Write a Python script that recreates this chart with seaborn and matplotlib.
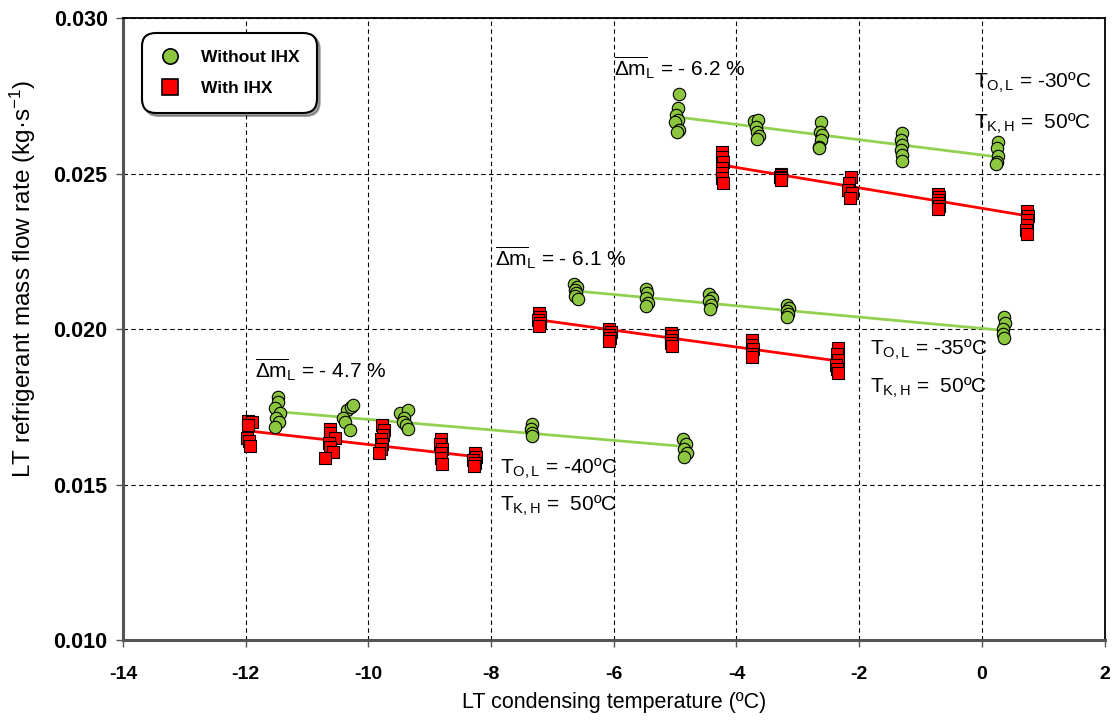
import matplotlib
matplotlib.use("Agg")
import matplotlib.pyplot as plt
import seaborn as sns
import pandas as pd

# ---------------- data ----------------
# Without IHX (green circles)
x_without = [
    # T_O,L = -30 C
    -4.93, -4.96, -4.98, -4.95, -5.00, -4.94, -4.97,
    -3.71, -3.65, -3.69, -3.67, -3.64, -3.66,
    -2.63, -2.64, -2.61, -2.62, -2.65, -2.66,
    -1.31, -1.32, -1.30, -1.32, -1.31, -1.30,
    0.27, 0.25, 0.26, 0.24, 0.23,
    # T_O,L = -35 C
    -6.65, -6.60, -6.63, -6.61, -6.64, -6.58,
    -5.47, -5.46, -5.48, -5.45, -5.47,
    -4.44, -4.40, -4.45, -4.42, -4.43,
    -3.17, -3.15, -3.18, -3.16, -3.17,
    0.36, 0.37, 0.35, 0.34, 0.36,
    # T_O,L = -40 C
    -11.48, -11.47, -11.52, -11.44, -11.50, -11.46, -11.52,
    -10.35, -10.28, -10.25, -10.42, -10.38, -10.30,
    -9.48, -9.36, -9.42, -9.44, -9.38, -9.35,
    -7.34, -7.35, -7.33, -7.34,
    -4.87, -4.82, -4.85, -4.80, -4.86,
]
y_without = [
    0.02756, 0.02711, 0.02688, 0.02672, 0.02666, 0.02640, 0.02633,
    0.02670, 0.02672, 0.02651, 0.02635, 0.02621, 0.02610,
    0.02667, 0.02634, 0.02624, 0.02608, 0.02586, 0.02581,
    0.02629, 0.02608, 0.02592, 0.02576, 0.02559, 0.02540,
    0.02602, 0.02581, 0.02556, 0.02538, 0.02531,
    0.02145, 0.02135, 0.02125, 0.02115, 0.02105, 0.02095,
    0.02128, 0.02115, 0.02100, 0.02085, 0.02075,
    0.02112, 0.02100, 0.02090, 0.02078, 0.02065,
    0.02078, 0.02068, 0.02058, 0.02048, 0.02040,
    0.02040, 0.02020, 0.02000, 0.01985, 0.01970,
    0.01780, 0.01765, 0.01745, 0.01730, 0.01715, 0.01700, 0.01685,
    0.01740, 0.01750, 0.01755, 0.01715, 0.01700, 0.01675,
    0.01730, 0.01740, 0.01715, 0.01700, 0.01690, 0.01680,
    0.01695, 0.01680, 0.01665, 0.01655,
    0.01645, 0.01630, 0.01615, 0.01600, 0.01590,
]

# With IHX (red squares)
x_with = [
    # T_O,L = -30 C
    -4.23, -4.24, -4.22, -4.23, -4.24, -4.23, -4.22,
    -3.28, -3.27, -3.29, -3.28, -3.27,
    -2.14, -2.17, -2.19, -2.12, -2.15,
    -0.71, -0.70, -0.72, -0.71, -0.70, -0.71,
    0.74, 0.75, 0.73, 0.74, 0.72, 0.73,
    # T_O,L = -35 C
    -7.22, -7.20, -7.23, -7.21, -7.22,
    -6.07, -6.05, -6.08, -6.06, -6.07,
    -5.06, -5.05, -5.07, -5.06, -5.05,
    -3.74, -3.74, -3.73, -3.75, -3.74,
    -2.34, -2.36, -2.35, -2.37, -2.36, -2.35,
    # T_O,L = -40 C
    -11.97, -11.90, -11.96, -11.98, -11.95, -11.93,
    -10.63, -10.62, -10.55, -10.64, -10.63, -10.58, -10.70,
    -9.77, -9.74, -9.76, -9.80, -9.78, -9.79, -9.82,
    -8.82, -8.83, -8.80, -8.82, -8.81, -8.80,
    -8.27, -8.24, -8.30, -8.26, -8.28,
]
y_with = [
    0.02570, 0.02553, 0.02537, 0.02518, 0.02502, 0.02486, 0.02469,
    0.02500, 0.02495, 0.02490, 0.02485, 0.02480,
    0.02490, 0.02468, 0.02447, 0.02436, 0.02421,
    0.02435, 0.02425, 0.02415, 0.02405, 0.02395, 0.02385,
    0.02380, 0.02365, 0.02350, 0.02335, 0.02320, 0.02305,
    0.02050, 0.02040, 0.02030, 0.02020, 0.02010,
    0.02000, 0.01990, 0.01980, 0.01970, 0.01962,
    0.01988, 0.01978, 0.01965, 0.01955, 0.01945,
    0.01965, 0.01950, 0.01935, 0.01920, 0.01910,
    0.01940, 0.01920, 0.01900, 0.01885, 0.01870, 0.01860,
    0.01705, 0.01700, 0.01690, 0.01650, 0.01640, 0.01625,
    0.01680, 0.01665, 0.01650, 0.01635, 0.01620, 0.01605, 0.01585,
    0.01690, 0.01675, 0.01660, 0.01645, 0.01630, 0.01615, 0.01600,
    0.01645, 0.01630, 0.01615, 0.01600, 0.01585, 0.01565,
    0.01600, 0.01590, 0.01580, 0.01570, 0.01560,
]

# trend lines (start, end) per evaporating temperature
trend_without_x = {"-30": [-4.90, 0.27], "-35": [-6.60, 0.28], "-40": [-11.45, -4.82]}
trend_without_y = {"-30": [0.02680, 0.02553], "-35": [0.02122, 0.01997], "-40": [0.01734, 0.01622]}
trend_with_x = {"-30": [-4.23, 0.77], "-35": [-7.20, -2.37], "-40": [-11.98, -8.35]}
trend_with_y = {"-30": [0.02527, 0.02363], "-35": [0.02029, 0.01898], "-40": [0.01673, 0.01592]}

x_ticks = [-14, -12, -10, -8, -6, -4, -2, 0, 2]
y_ticks = [0.010, 0.015, 0.020, 0.025, 0.030]
x_label = "LT condensing temperature (ºC)"
y_label = r"LT refrigerant mass flow rate (kg·s$^{\mathregular{-1}}$)"
series_names = ["Without IHX", "With IHX"]

# ---------------- plot ----------------
sns.set_theme(style="white")
plt.rcParams['font.family'] = ['Liberation Sans', 'DejaVu Sans']
plt.rcParams['mathtext.fontset'] = 'custom'
plt.rcParams['mathtext.rm'] = 'Liberation Sans'
plt.rcParams['mathtext.it'] = 'Liberation Sans:italic'
plt.rcParams['mathtext.bf'] = 'Liberation Sans:bold'
plt.rcParams['text.color'] = 'black'
plt.rcParams['axes.labelcolor'] = 'black'
plt.rcParams['xtick.labelcolor'] = 'black'
plt.rcParams['ytick.labelcolor'] = 'black'

GREEN = "#8DC63F"
GREEN_LINE = "#92D050"
RED = "#FF0000"

fig = plt.figure(figsize=(11.18, 7.2), dpi=100)
ax = fig.add_axes([0.110, 0.111, 0.878, 0.864])

df_wo = pd.DataFrame({"x": x_without, "y": y_without})
df_w = pd.DataFrame({"x": x_with, "y": y_with})

for key in trend_without_x:
    sns.lineplot(x=trend_without_x[key], y=trend_without_y[key], ax=ax,
                 color=GREEN_LINE, lw=2, zorder=2)
    sns.lineplot(x=trend_with_x[key], y=trend_with_y[key], ax=ax,
                 color=RED, lw=2, zorder=2)

sns.scatterplot(data=df_wo, x="x", y="y", ax=ax, marker="o", s=80,
                color=GREEN, edgecolor="black", linewidth=0.8, zorder=3)
sns.scatterplot(data=df_w, x="x", y="y", ax=ax, marker="s", s=75,
                color=RED, edgecolor="black", linewidth=0.8, zorder=3)

ax.set_xlim(-14, 2)
ax.set_ylim(0.010, 0.030)
ax.set_xticks(x_ticks)
ax.set_yticks(y_ticks)
ax.set_xticklabels([str(t) for t in x_ticks])
ax.set_yticklabels([f"{t:.3f}" for t in y_ticks])
for lbl in ax.get_xticklabels():
    lbl.set_fontweight("bold")
    lbl.set_fontsize(14)
    lbl.set_color("black")
for lbl in ax.get_yticklabels():
    lbl.set_fontweight("bold")
    lbl.set_fontsize(15.5)
    lbl.set_color("black")
ax.tick_params(axis="x", direction="out", length=5, width=1, color="#555555",
               bottom=True, pad=14)
ax.tick_params(axis="y", direction="out", length=5, width=1, color="#555555",
               left=True, pad=6)
ax.grid(True, color="black", linestyle=(0, (4, 3)), linewidth=0.8)
ax.set_axisbelow(True)
for sp in ax.spines.values():
    sp.set_color("black")
    sp.set_linewidth(1.3)
ax.spines["left"].set_color("#555555")
ax.spines["left"].set_linewidth(2.2)
ax.spines["bottom"].set_color("#555555")
ax.spines["bottom"].set_linewidth(2.2)

ax.set_xlabel(x_label, fontsize=15.5, labelpad=6, color="black")
ax.set_ylabel(y_label, fontsize=17.5, color="black")
ax.yaxis.set_label_coords(-0.087, 0.58)

# annotations
tfs = 15
dm = r"$\overline{\Delta\mathrm{m}}_{\mathrm{L}}$"
ax.text(-6.0, 0.0284, dm + " = - 6.2 %", fontsize=tfs, va="center", color="black")
ax.text(-0.13, 0.0279, r"T$_{\mathrm{O,L}}$ = -30ºC", fontsize=tfs, va="center", color="black")
ax.text(-0.13, 0.0266, r"T$_{\mathrm{K,H}}$ =  50ºC", fontsize=tfs, va="center", color="black")
ax.text(-7.93, 0.0223, dm + " = - 6.1 %", fontsize=tfs, va="center", color="black")
ax.text(-1.83, 0.01932, r"T$_{\mathrm{O,L}}$ = -35ºC", fontsize=tfs, va="center", color="black")
ax.text(-1.83, 0.0181, r"T$_{\mathrm{K,H}}$ =  50ºC", fontsize=tfs, va="center", color="black")
ax.text(-11.85, 0.0187, dm + " = - 4.7 %", fontsize=tfs, va="center", color="black")
ax.text(-7.86, 0.0155, r"T$_{\mathrm{O,L}}$ = -40ºC", fontsize=tfs, va="center", color="black")
ax.text(-7.86, 0.0143, r"T$_{\mathrm{K,H}}$ =  50ºC", fontsize=tfs, va="center", color="black")

# legend
handles = [
    plt.Line2D([], [], marker="o", linestyle="none", markersize=11,
               markerfacecolor=GREEN, markeredgecolor="black", markeredgewidth=1.2),
    plt.Line2D([], [], marker="s", linestyle="none", markersize=11,
               markerfacecolor=RED, markeredgecolor="black", markeredgewidth=1.2),
]
leg = ax.legend(handles, series_names, loc="upper left", bbox_to_anchor=(0.014, 0.985),
                frameon=True, fancybox=True, shadow=True,
                handletextpad=1.2, borderpad=0.8, labelspacing=0.9, handlelength=1.2,
                prop={"family": "Liberation Sans", "weight": "bold", "size": 12.5})
for t in leg.get_texts():
    t.set_color("black")
leg.get_frame().set_edgecolor("black")
leg.get_frame().set_linewidth(1.5)
leg.get_frame().set_boxstyle("round,pad=0.2,rounding_size=0.8")

fig.savefig("out.png", dpi=100)
